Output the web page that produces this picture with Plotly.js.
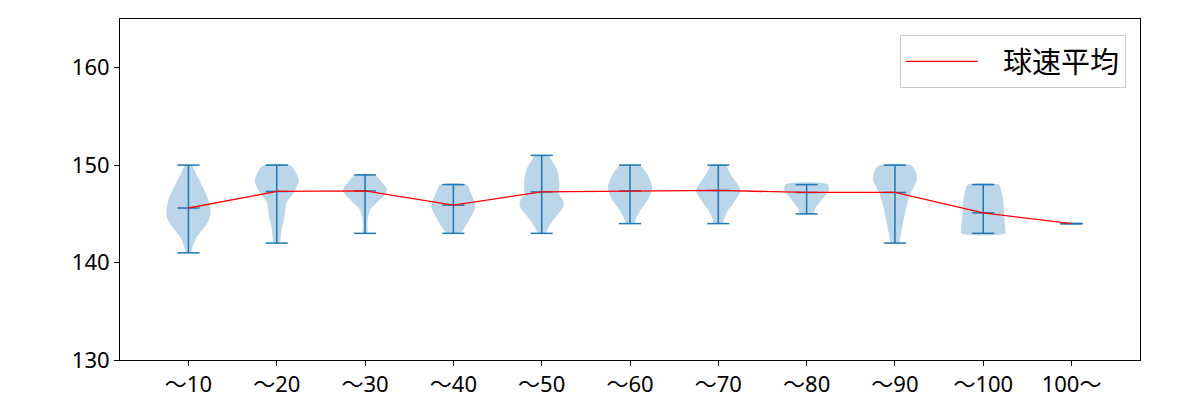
<!DOCTYPE html>
<html>
<head>
<meta charset="utf-8">
<script src="https://cdn.plot.ly/plotly-3.0.1.min.js"></script>
<style>html,body{margin:0;padding:0;background:#fff}#chart{width:1200px;height:400px}</style>
</head>
<body>
<div id="chart"></div>
<script>
// ---- data ----
const categories = ['～10','～20','～30','～40','～50','～60','～70','～80','～90','～100','100～'];
const speedMin  = [141, 142, 143, 143, 143, 144, 144, 145, 142, 143, 144];
const speedMax  = [150, 150, 149, 148, 151, 150, 150, 148, 150, 148, 144];
const speedMean = [145.6, 147.3, 147.35, 145.9, 147.25, 147.35, 147.4, 147.2, 147.2, 145.1, 144.0];
// estimated density profile of each violin (speed level, relative width 0..1)
const densityLevels = [
  [141, 141.7, 142.7, 143.7, 144.5, 145.0, 146.5, 148.2, 149.3, 150],
  [142, 143.4, 144.7, 146.2, 147.2, 148.4, 149.3, 150],
  [143, 144.0, 144.8, 145.5, 146.3, 147.4, 148.3, 149],
  [143, 143.4, 144.4, 145.8, 147.2, 148],
  [143, 143.7, 144.8, 145.6, 146.2, 147.0, 148.2, 149.6, 150.5, 151],
  [144, 144.4, 145.3, 146.5, 147.7, 148.9, 149.5, 150],
  [144, 144.4, 145.3, 146.3, 147.4, 148.9, 149.5, 150],
  [145, 145.6, 146.5, 147.4, 148],
  [142, 142.7, 144.1, 145.8, 147.2, 148.6, 149.5, 150],
  [143, 143.4, 144.8, 146.5, 147.5, 148],
  []
];
const densityWidths = [
  [0.10, 0.20, 0.40, 0.75, 0.95, 1.00, 0.90, 0.55, 0.30, 0.15],
  [0.12, 0.22, 0.35, 0.45, 0.77, 1.00, 0.85, 0.60],
  [0.10, 0.10, 0.15, 0.25, 0.60, 1.00, 0.75, 0.45],
  [0.30, 0.45, 0.72, 1.00, 0.78, 0.60],
  [0.15, 0.33, 0.68, 0.95, 1.00, 0.80, 0.80, 0.68, 0.45, 0.30],
  [0.20, 0.25, 0.45, 0.82, 1.00, 0.82, 0.65, 0.45],
  [0.20, 0.25, 0.42, 0.75, 1.00, 0.60, 0.45, 0.35],
  [0.30, 0.40, 0.70, 1.00, 0.97],
  [0.18, 0.25, 0.37, 0.53, 0.73, 1.00, 0.90, 0.72],
  [1.00, 1.00, 0.95, 0.90, 0.80, 0.72],
  []
];
const yTicks = [130, 140, 150, 160];
const legendLabel = '球速平均';

// ---- build traces ----
const blue = '#1f77b4';
const halfWidth = 0.25;   // violin half width (position units)
const capHalf = 0.125;    // cap half length
const traces = [];

categories.forEach((c, i) => {
  const pos = i + 1;
  const lv = densityLevels[i], wd = densityWidths[i];
  if (lv.length) {
    const xs = [], ys = [];
    for (let k = 0; k < lv.length; k++) { xs.push(pos + halfWidth * wd[k]); ys.push(lv[k]); }
    for (let k = lv.length - 1; k >= 0; k--) { xs.push(pos - halfWidth * wd[k]); ys.push(lv[k]); }
    xs.push(xs[0]); ys.push(ys[0]);
    traces.push({
      type: 'scatter', mode: 'lines', x: xs, y: ys,
      fill: 'toself', fillcolor: 'rgba(31,119,180,0.3)',
      line: {width: 0, shape: 'spline', smoothing: 0.8},
      hoverinfo: 'skip', showlegend: false
    });
  }
});

// stems and caps
const lx = [], ly = [];
categories.forEach((c, i) => {
  const pos = i + 1;
  lx.push(pos, pos, null); ly.push(speedMin[i], speedMax[i], null);
  [speedMin[i], speedMax[i], speedMean[i]].forEach(v => {
    lx.push(pos - capHalf, pos + capHalf, null); ly.push(v, v, null);
  });
});
traces.push({
  type: 'scatter', mode: 'lines', x: lx, y: ly,
  line: {color: blue, width: 1.5}, hoverinfo: 'skip', showlegend: false
});

// mean line
traces.push({
  type: 'scatter', mode: 'lines',
  x: categories.map((c, i) => i + 1), y: speedMean,
  line: {color: 'red', width: 1.3}, name: '\u2002\u2009' + legendLabel, showlegend: true
});

const fam = '"Noto Sans", "Noto Sans CJK JP", sans-serif';
const tickFont = {family: fam, size: 22, color: '#000'};
const layout = {
  width: 1200, height: 400,
  margin: {l: 120, r: 60, t: 19, b: 40},
  paper_bgcolor: '#fff', plot_bgcolor: '#fff',
  font: {family: fam, size: 22, color: '#000'},
  showlegend: true,
  legend: {
    x: 0.986, y: 0.953, xanchor: 'right', yanchor: 'top',
    bgcolor: 'rgba(255,255,255,0.8)', bordercolor: '#cccccc', borderwidth: 1,
    itemwidth: 72,
    font: {family: '"Noto Sans CJK JP", sans-serif', size: 29, color: '#000'}
  },
  xaxis: {
    range: [0.225, 11.775], tickmode: 'array',
    tickvals: categories.map((c, i) => i + 1), ticktext: categories,
    showgrid: false, zeroline: false, showline: true, mirror: true,
    linecolor: '#000', linewidth: 1, ticks: 'outside', ticklen: 5, tickcolor: '#000',
    tickfont: tickFont
  },
  yaxis: {
    range: [130, 165], tickmode: 'array', tickvals: yTicks,
    showgrid: false, zeroline: false, showline: true, mirror: true,
    linecolor: '#000', linewidth: 1, ticks: 'outside', ticklen: 5, tickcolor: '#000',
    tickfont: tickFont
  }
};
Plotly.newPlot('chart', traces, layout, {staticPlot: true, displayModeBar: false});
</script>
</body>
</html>
